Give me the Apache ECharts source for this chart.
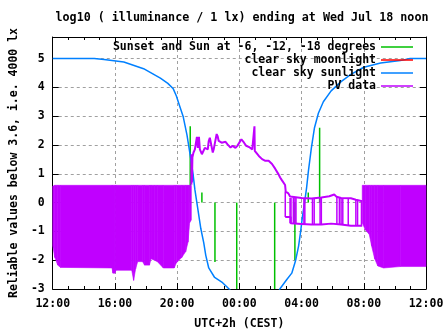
<!DOCTYPE html>
<html><head><meta charset="utf-8">
<script src="https://cdn.jsdelivr.net/npm/echarts@6/dist/echarts.min.js"></script>
<style>html,body{margin:0;padding:0;background:#fff}#c{width:447px;height:335px}</style>
</head><body><div id="c"></div>
<script>
// x values are hours since Tue 12:00 (CEST); 24 = Wed 12:00
const titleText = 'log10 ( illuminance / 1 lx) ending at Wed Jul 18 noon';
const xName = 'UTC+2h (CEST)';
const yName = 'Reliable values below 3.6, i.e. 4000 lx';
const xTickHours = [0, 4, 8, 12, 16, 20, 24];
const yTicks = [-3, -2, -1, 0, 1, 2, 3, 4, 5];
const legendNames = ['Sunset and Sun at -6, -12, -18 degrees', 'clear sky moonlight', 'clear sky sunlight', 'PV data'];

// Sun elevation markers (impulses from 0)
const sunMarks = [[8.84, 2.65], [9.59, 0.35], [10.43, -2.06], [11.83, -3], [14.27, -3], [15.57, -2.0], [16.43, 0.35], [17.16, 2.6]];
// clear sky moonlight: nothing visible inside the plotted range
const moonLight = [];
// clear sky sunlight
const sunLight = [[0, 5.0], [2.67, 5.0], [3.3, 4.97], [4.57, 4.88], [5.84, 4.65], [6.92, 4.32], [7.4, 4.14], [7.75, 3.95], [7.95, 3.7], [8.1, 3.45], [8.38, 3.0], [8.63, 2.35], [8.83, 1.67], [9.02, 1.0], [9.14, 0.45], [9.33, -0.23], [9.52, -0.9], [9.71, -1.4], [9.84, -1.83], [10.03, -2.27], [10.41, -2.6], [10.92, -2.78], [11.24, -2.95], [11.43, -3.05], [11.6, -3.3], [14.4, -3.3], [14.6, -3.0], [15.05, -2.67], [15.37, -2.45], [15.62, -2.0], [15.81, -1.5], [15.94, -1.0], [16.06, -0.47], [16.19, 0.0], [16.32, 0.5], [16.44, 1.1], [16.63, 1.9], [16.83, 2.6], [17.08, 3.1], [17.4, 3.5], [17.9, 3.88], [18.54, 4.2], [19.17, 4.45], [20.0, 4.7], [21.08, 4.85], [22.35, 4.93], [22.98, 5.0], [24, 5.0]];

// PV data: daytime readings swing between these upper and lower values [t, high, low]
const pvEveningBand = [[0, 0.57, -1.5], [0.13, 0.6, -1.9], [0.32, 0.6, -2.17], [0.5, 0.6, -2.25], [3.81, 0.6, -2.27], [3.87, 0.6, -2.45], [4.0, 0.6, -2.45], [4.06, 0.6, -2.35], [5.08, 0.6, -2.35], [5.2, 0.6, -2.7], [5.33, 0.6, -2.3], [5.46, 0.6, -2.05], [5.78, 0.6, -2.05], [5.9, 0.6, -2.17], [6.22, 0.6, -2.17], [6.32, 0.6, -1.95], [6.54, 0.6, -2.0], [6.73, 0.6, -2.05], [7.11, 0.6, -2.27], [7.81, 0.6, -2.27], [7.94, 0.6, -2.1], [8.3, 0.6, -1.9], [8.55, 0.6, -1.7], [8.7, 0.6, -1.37], [8.8, 0.6, -0.7], [8.91, 0.6, -0.6]];
const pvMorningBand = [[19.9, 0.6, -0.7], [20.1, 0.6, -0.95], [20.35, 0.6, -1.1], [20.5, 0.6, -1.5], [20.7, 0.6, -1.95], [20.9, 0.6, -2.2], [21.27, 0.6, -2.27], [22.35, 0.6, -2.22], [24, 0.6, -2.22]];
// PV data: night trace and upper dawn level
const pvNight = [[8.91, 0.62], [8.92, 1.68], [8.95, 0.7], [8.98, 1.57], [9.05, 1.74], [9.14, 1.85], [9.21, 1.9], [9.27, 2.28], [9.33, 1.9], [9.40, 2.28], [9.46, 1.85], [9.59, 1.68], [9.65, 1.74], [9.78, 1.9], [9.84, 1.9], [9.97, 1.85], [10.03, 2.14], [10.10, 2.25], [10.16, 2.19], [10.29, 1.74], [10.35, 1.85], [10.41, 2.02], [10.54, 2.38], [10.60, 2.31], [10.67, 2.14], [10.79, 2.2], [10.86, 2.08], [10.98, 2.02], [11.11, 2.11], [11.24, 2.02], [11.30, 1.97], [11.43, 1.91], [11.56, 1.97], [11.75, 1.9], [11.87, 1.97], [12.13, 2.2], [12.30, 2.08], [12.44, 1.97], [12.62, 1.93], [12.83, 1.85], [12.95, 1.8], [12.97, 2.65], [12.99, 1.8], [13.04, 1.77], [13.25, 1.62], [13.46, 1.51], [13.67, 1.45], [13.88, 1.45], [14.10, 1.34], [14.31, 1.17], [14.52, 0.98], [14.62, 0.87], [14.73, 0.78], [14.83, 0.72], [14.94, 0.61], [14.98, 0.38], [15.05, 0.38], [15.15, 0.32], [15.26, 0.21], [15.37, 0.16], [16.0, 0.16], [16.63, 0.14], [17.27, 0.18], [17.78, 0.22], [18.1, 0.28], [18.25, 0.2], [18.54, 0.16], [19.17, 0.15], [19.49, 0.1], [19.9, 0.05]];
// PV data: lower dawn level
const pvDawnLow = [[14.95, -0.5], [15.3, -0.5], [15.3, -0.72], [16.0, -0.74], [16.63, -0.76], [17.27, -0.76], [17.9, -0.73], [18.54, -0.76], [19.17, -0.8], [19.9, -0.8]];
// PV data: jumps between the two dawn levels [t, high, low]
const pvDawnJumps = [[14.95, 0.38, -0.5], [15.26, 0.16, -0.72], [15.32, 0.16, -0.72], [15.47, 0.16, -0.73], [15.57, 0.16, -0.73], [15.64, 0.16, -0.73], [16.15, 0.16, -0.74], [16.21, 0.16, -0.74], [16.70, 0.14, -0.76], [16.81, 0.14, -0.76], [17.19, 0.18, -0.76], [17.27, 0.18, -0.76], [18.27, 0.2, -0.74], [18.43, 0.18, -0.75], [18.54, 0.16, -0.76], [18.65, 0.16, -0.77], [19.00, 0.15, -0.78], [19.49, 0.1, -0.8], [19.60, 0.1, -0.8], [19.85, 0.08, -0.8]];

const GREEN = '#00c000', RED = '#ff0000', BLUE = '#0080ff', PURPLE = '#c000ff';
const FONT = 'DejaVu Sans Mono';
const txt = {fontFamily: FONT, fontWeight: 'bold', fontSize: 11.5, color: '#000'};

const X_MIN = 0, X_MAX = 24, Y_MIN = -3, Y_MAX = 5.75;
const fmtHour = v => { const h = (12 + Math.round(v)) % 24; return (h < 10 ? '0' : '') + h + ':00'; };

function segSeries(name, data, color, width, z) {
  return {
    type: 'custom', name: name, xAxisIndex: 0, yAxisIndex: 0, z: z,
    data: data, itemStyle: {color: color}, silent: true,
    encode: {x: 0, y: data[0].length > 2 ? [1, 2] : 1},
    renderItem: function (params, api) {
      const t = api.value(0);
      const a = api.coord([t, data[0].length > 2 ? api.value(1) : 0]);
      const b = api.coord([t, data[0].length > 2 ? api.value(2) : api.value(1)]);
      return {type: 'line', shape: {x1: a[0], y1: a[1], x2: b[0], y2: b[1]}, style: {stroke: color, lineWidth: width}};
    }
  };
}
function bandSeries(data, z) {
  return {
    type: 'custom', name: 'PV data', xAxisIndex: 0, yAxisIndex: 0, z: z,
    data: data, itemStyle: {color: PURPLE}, silent: true,
    encode: {x: 0, y: [1, 2]},
    renderItem: function (params, api) {
      const i = params.dataIndexInside, n = params.dataInsideLength;
      if (i >= n - 1) return;
      const t0 = api.value(0, i), h0 = api.value(1, i), l0 = api.value(2, i);
      const t1 = api.value(0, i + 1), h1 = api.value(1, i + 1), l1 = api.value(2, i + 1);
      const pts = [api.coord([t0, h0]), api.coord([t1, h1]), api.coord([t1, l1]), api.coord([t0, l0])];
      return {type: 'polygon', shape: {points: pts}, style: {fill: PURPLE, stroke: PURPLE, lineWidth: 0.6}};
    }
  };
}

const legendRowsTop = [41, 54, 67, 80];
const legends = legendNames.map((n, i) => ({
  data: [n], right: 34, top: legendRowsTop[i], orient: 'vertical', align: 'right', padding: 0,
  icon: 'rect', itemWidth: 32, itemHeight: 1.5, selectedMode: false,
  textStyle: Object.assign({}, txt)
}));

const axisCommon = {
  axisLine: {show: true, onZero: false, lineStyle: {color: '#000', width: 1}},
  axisTick: {show: true, inside: true, length: 6, lineStyle: {color: '#000'}}
};

const option = {
  animation: false,
  backgroundColor: '#fff',
  title: {text: titleText, left: 237, top: 7, textAlign: 'center',
    textStyle: {fontFamily: FONT, fontWeight: 'bold', fontSize: 11.7, color: '#000'}},
  legend: legends,
  grid: {left: 48, right: 21, top: 37, bottom: 40, containLabel: false, show: false},
  xAxis: [
    Object.assign({}, axisCommon, {
      type: 'value', position: 'bottom', min: X_MIN, max: X_MAX, interval: 4,
      name: xName, nameLocation: 'middle', nameGap: 29, nameTextStyle: Object.assign({}, txt),
      axisLabel: Object.assign({}, txt, {margin: 9, formatter: fmtHour}),
      minorTick: {show: true, splitNumber: 4, length: 3, lineStyle: {color: '#000'}},
      splitLine: {show: true, lineStyle: {color: '#a0a0a0', type: [3, 3], width: 1}}
    }),
    Object.assign({}, axisCommon, {
      type: 'value', position: 'top', min: X_MIN, max: X_MAX, interval: 4,
      axisLabel: {show: false},
      minorTick: {show: true, splitNumber: 4, length: 3, lineStyle: {color: '#000'}},
      splitLine: {show: false}
    })
  ],
  yAxis: [
    Object.assign({}, axisCommon, {
      type: 'value', position: 'left', min: Y_MIN, max: Y_MAX, interval: 1,
      name: yName, nameLocation: 'middle', nameGap: 27, nameTextStyle: Object.assign({}, txt),
      axisLabel: Object.assign({}, txt, {margin: 8, formatter: v => yTicks.indexOf(v) >= 0 ? String(v) : ''}),
      splitLine: {show: true, lineStyle: {color: '#a0a0a0', type: [3, 3], width: 1}}
    }),
    Object.assign({}, axisCommon, {
      type: 'value', position: 'right', min: Y_MIN, max: Y_MAX, interval: 1,
      axisLabel: {show: false}, splitLine: {show: false}
    })
  ],
  series: [
    segSeries(legendNames[0], sunMarks, GREEN, 1.5, 2),
    {type: 'line', name: legendNames[1], data: moonLight, color: RED, showSymbol: false, symbol: 'none',
      lineStyle: {color: RED, width: 1.5}, z: 3},
    {type: 'line', name: legendNames[2], data: sunLight, color: BLUE, showSymbol: false, symbol: 'none',
      lineStyle: {color: BLUE, width: 1.5}, z: 3, clip: true},
    {type: 'line', name: legendNames[3], data: pvNight, color: PURPLE, showSymbol: false, symbol: 'none',
      lineStyle: {color: PURPLE, width: 2}, z: 4, clip: true},
    {type: 'line', name: legendNames[3], data: pvDawnLow, color: PURPLE, showSymbol: false, symbol: 'none',
      lineStyle: {color: PURPLE, width: 2}, z: 4, clip: true},
    segSeries(legendNames[3], pvDawnJumps, PURPLE, 1.5, 4),
    bandSeries(pvEveningBand, 4),
    bandSeries(pvMorningBand, 4)
  ]
};
const chart = echarts.init(document.getElementById('c'), null, {renderer: 'canvas'});
chart.setOption(option);
</script></body></html>
